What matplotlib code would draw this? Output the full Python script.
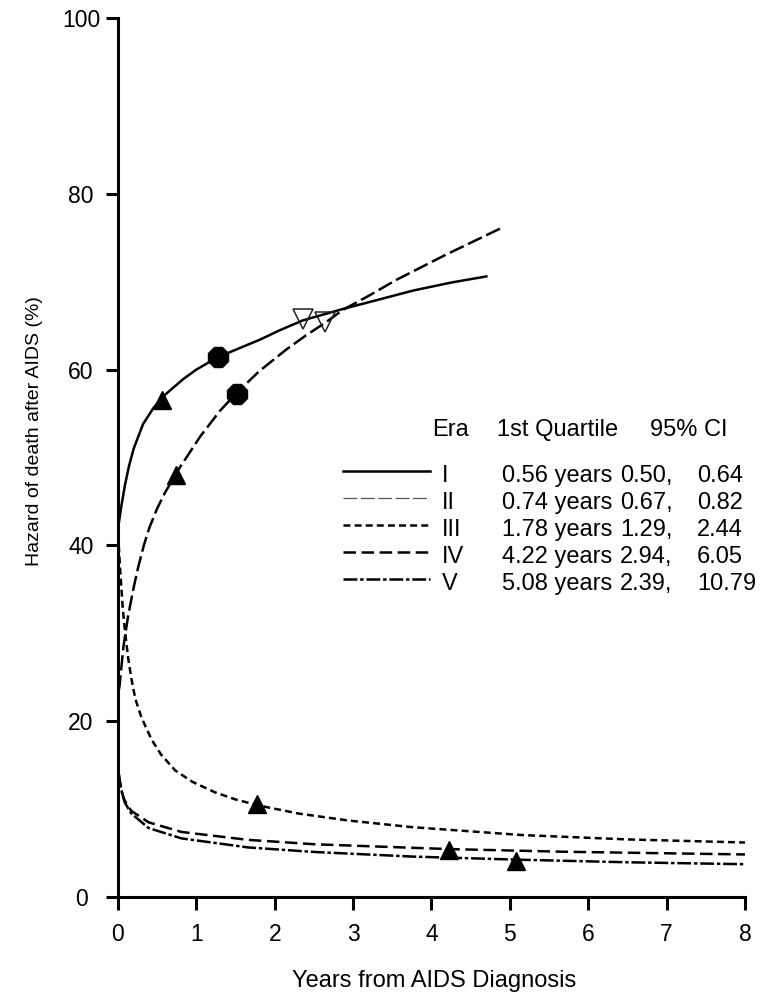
import numpy as np
import matplotlib
matplotlib.use('Agg')
import matplotlib.pyplot as plt
from matplotlib.lines import Line2D

plt.rcParams['font.family'] = ['Liberation Sans', 'DejaVu Sans']
plt.rcParams['lines.scale_dashes'] = False

# hazard curves (years, %)
era1_x = [0.0, 0.01, 0.04, 0.09, 0.14, 0.2, 0.32, 0.45, 0.57, 0.83, 1.0, 1.27, 1.81, 2.07,
          2.36, 2.87, 3.3, 3.77, 4.25, 4.7]
era1_y = [41.0, 42.5, 44.3, 46.9, 49.0, 51.0, 53.8, 55.6, 56.9, 58.9, 60.0, 61.4, 63.4, 64.5,
          65.6, 66.9, 67.9, 69.0, 69.9, 70.6]

era2_x = [0.01, 0.02, 0.07, 0.13, 0.2, 0.26, 0.33, 0.4, 0.5, 0.6, 0.77, 1.05, 1.3, 1.52, 1.8,
          2.15, 2.4, 2.64, 2.87, 3.2, 3.55, 4.19, 4.89]
era2_y = [23.5, 24.0, 28.5, 32.0, 35.2, 37.6, 40.0, 42.0, 44.2, 46.0, 48.6, 52.4, 55.3, 57.4, 59.8,
          62.3, 63.9, 65.3, 66.8, 68.4, 70.2, 73.1, 76.1]

era3_x = [0.01, 0.03, 0.06, 0.09, 0.13, 0.17, 0.22, 0.3, 0.43, 0.55, 0.73, 0.95, 1.24, 1.5, 1.8,
          2.3, 2.94, 3.75, 5.15, 6.5, 8.0]
era3_y = [40.0, 37.0, 33.0, 30.2, 27.2, 24.9, 22.6, 20.4, 17.9, 16.2, 14.4, 13.1, 11.9, 11.1, 10.4,
          9.5, 8.7, 7.95, 7.05, 6.55, 6.2]

era4_x = [0.01, 0.03, 0.06, 0.09, 0.17, 0.39, 0.81, 1.66, 2.51, 3.75, 4.23, 5.68, 8.0]
era4_y = [14.0, 12.8, 11.6, 10.9, 9.8, 8.5, 7.4, 6.5, 6.0, 5.6, 5.45, 5.15, 4.84]

era5_x = [0.01, 0.03, 0.06, 0.09, 0.17, 0.39, 0.81, 1.66, 2.51, 3.75, 5.09, 6.5, 8.0]
era5_y = [14.0, 12.8, 11.5, 10.7, 9.5, 7.85, 6.67, 5.64, 5.12, 4.6, 4.25, 3.95, 3.73]

# markers: first quartile (filled triangle), circles, open triangles
quart_x = [0.56, 0.74, 1.78, 4.22, 5.08]
quart_y = [56.5, 48.0, 10.6, 5.35, 4.1]
circ_x = [1.27, 1.52]
circ_y = [61.4, 57.2]
open_x = [2.36, 2.64]
open_y = [65.8, 65.4]

eras = ['I', 'II', 'III', 'IV', 'V']
quartile_txt = ['0.56 years', '0.74 years', '1.78 years', '4.22 years', '5.08 years']
ci_low = ['0.50,', '0.67,', '1.29,', '2.94,', '2.39,']
ci_high = ['0.64', '0.82', '2.44', '6.05', '10.79']

styles = [
    dict(linestyle='-'),
    dict(linestyle=(0, (11, 3.5))),
    dict(linestyle=(0, (5, 3))),
    dict(linestyle=(0, (9, 4))),
    dict(linestyle=(0, (10, 2, 2.5, 2))),
]

fs = 17
lw = 1.8

fig = plt.figure(figsize=(7.67, 9.97), dpi=100)
ax = fig.add_axes([0.1538, 0.1003, 0.8175, 0.88165])

series = [(era1_x, era1_y), (era2_x, era2_y), (era3_x, era3_y), (era4_x, era4_y), (era5_x, era5_y)]
for (xs, ys), st in zip(series, styles):
    ax.plot(xs, ys, color='black', lw=lw, solid_joinstyle='round', dash_joinstyle='round', **st)

ax.plot(quart_x, quart_y, linestyle='none', marker='^', ms=12.5, color='black', zorder=5)
ax.plot(circ_x, circ_y, linestyle='none', marker='8', ms=15, color='black', zorder=5)
ax.plot(open_x, open_y, linestyle='none', marker='v', ms=14, mfc='none', mec='#222222', mew=1.1, zorder=5)

ax.set_xlim(0, 8)
ax.set_ylim(0, 100)
ax.set_xticks(range(0, 9))
ax.set_yticks(range(0, 101, 20))
for s in ['top', 'right']:
    ax.spines[s].set_visible(False)
for s in ['left', 'bottom']:
    ax.spines[s].set_linewidth(2.2)
ax.tick_params(direction='out', length=9, width=2.2, labelsize=16.5)
ax.tick_params(axis='x', pad=10)
ax.tick_params(axis='y', pad=17.6)
for lab in ax.get_yticklabels():
    lab.set_horizontalalignment('center')

ax.set_xlabel('Years from AIDS Diagnosis', fontsize=fs)
ax.xaxis.set_label_coords(0.505, -0.083)
ax.set_ylabel('Hazard of death after AIDS (%)', fontsize=14)
ax.yaxis.set_label_coords(-0.1196, 0.53)

# legend table
tr = ax.transAxes
hdr_y = 0.5245
ax.text(0.5008, hdr_y, 'Era', transform=tr, fontsize=fs, va='baseline')
ax.text(0.6045, hdr_y, '1st Quartile', transform=tr, fontsize=fs, va='baseline')
ax.text(0.8485, hdr_y, '95% CI', transform=tr, fontsize=fs, va='baseline')

row0 = 0.4725
step = 0.0308
for i, st in enumerate(styles):
    yb = row0 - i * step
    yl = yb + 0.0125
    if i == 1:
        ln = Line2D([0.3589, 0.4976], [yl, yl], transform=tr, color='#555555', lw=0.9,
                    linestyle=(0, (10, 2.5)))
    else:
        ln = Line2D([0.3589, 0.4976], [yl, yl], transform=tr, color='black', lw=lw, **st)
    ax.add_line(ln)
    ax.text(0.5167, yb, eras[i], transform=tr, fontsize=fs, va='baseline')
    ax.text(0.6124, yb, quartile_txt[i], transform=tr, fontsize=fs, va='baseline')
    ax.text(0.8006, yb, ci_low[i], transform=tr, fontsize=fs, va='baseline')
    ax.text(0.9234, yb, ci_high[i], transform=tr, fontsize=fs, va='baseline', clip_on=False)

fig.savefig('out.png', dpi=100)
